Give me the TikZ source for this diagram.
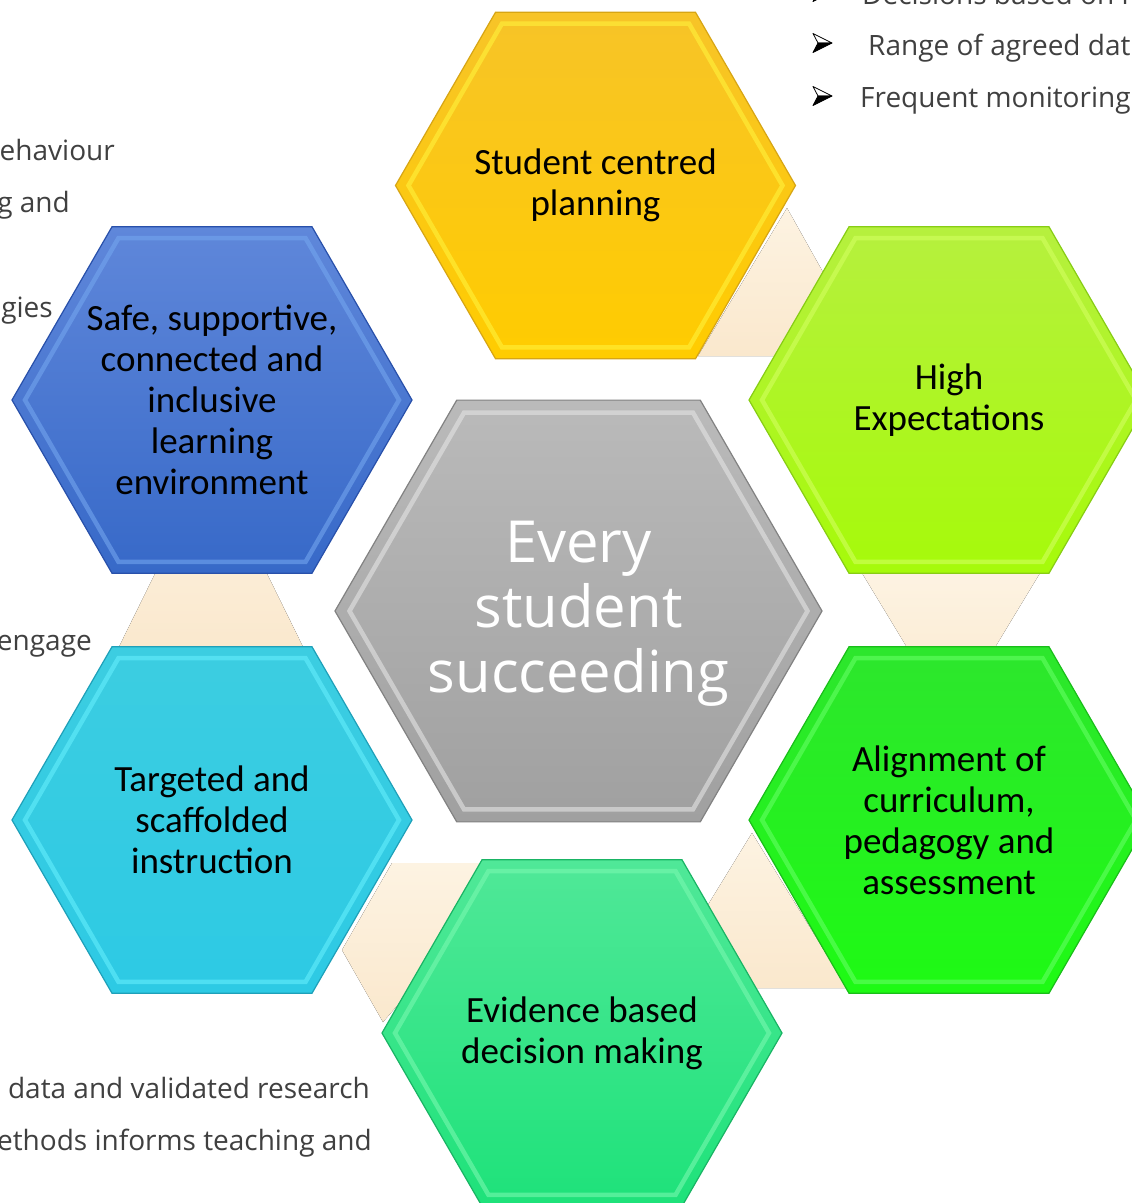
\documentclass[tikz,border=0pt]{standalone}
\usepackage{fontspec}
\usetikzlibrary{shapes.geometric}
\newfontfamily\labfont{Carlito}
\newfontfamily\sidefont{Open Sans}
\definecolor{sidegray}{RGB}{64,64,64}
\definecolor{creamT}{RGB}{253,243,226}
\definecolor{creamB}{RGB}{250,232,205}
\definecolor{yelT}{RGB}{247,196,40}\definecolor{yelB}{RGB}{255,204,0}\definecolor{yelL}{RGB}{255,242,60}\definecolor{yelD}{RGB}{215,165,20}
\definecolor{heT}{RGB}{182,240,62}\definecolor{heB}{RGB}{166,250,10}\definecolor{heL}{RGB}{210,255,95}\definecolor{heD}{RGB}{135,205,20}
\definecolor{alT}{RGB}{45,230,45}\definecolor{alB}{RGB}{30,250,20}\definecolor{alL}{RGB}{100,255,100}\definecolor{alD}{RGB}{25,190,25}
\definecolor{evT}{RGB}{80,232,152}\definecolor{evB}{RGB}{30,226,122}\definecolor{evL}{RGB}{120,248,175}\definecolor{evD}{RGB}{25,180,100}
\definecolor{taT}{RGB}{60,205,225}\definecolor{taB}{RGB}{45,202,228}\definecolor{taL}{RGB}{100,238,252}\definecolor{taD}{RGB}{30,160,185}
\definecolor{saT}{RGB}{95,135,218}\definecolor{saB}{RGB}{55,105,200}\definecolor{saL}{RGB}{115,165,238}\definecolor{saD}{RGB}{40,80,170}
\definecolor{grT}{RGB}{186,186,186}\definecolor{grB}{RGB}{160,160,160}\definecolor{grL}{RGB}{228,228,228}\definecolor{grD}{RGB}{130,130,130}
\tikzset{
  hexbase/.style={regular polygon, regular polygon sides=6, inner sep=0pt, line width=1.2pt},
  hextext/.style={align=center, inner sep=0pt, text=black, font=\labfont\fontsize{37}{41}\selectfont},
  bevelline/.style={line width=4.5pt, line join=miter, opacity=0.6},
  sidetext/.style={font=\sidefont\fontsize{28}{34}\selectfont, text=sidegray, inner sep=0pt},
  creamfill/.style={top color=creamT, bottom color=creamB, draw=none},
}
\newcommand\bevelhex[3]{\draw[bevelline, draw=#3] (#1.center) ++(0:#2) -- ++(120:#2) -- ++(180:#2) -- ++(240:#2) -- ++(300:#2) -- ++(0:#2) -- cycle;}
\newcommand\bularrow[2]{%
  \filldraw[fill=white, draw=black, line width=0.8pt, line join=round] (#1+19,#2) -- (#1,#2-9.5) -- (#1+5,#2) -- cycle;
  \filldraw[fill=black, draw=black, line width=0.8pt, line join=round] (#1+19,#2) -- (#1,#2+9.5) -- (#1+5,#2) -- cycle;}
\begin{document}
\begin{tikzpicture}[x=1pt,y=-1pt]
\useasboundingbox (0,0) rectangle (1132,1203);
\clip (0,0) rectangle (1132,1203);
\fill[white] (0,0) rectangle (1132,1203);

% side texts
\node[sidetext, anchor=base east] (t1) at (115,160) {ehaviour};
\node[sidetext, anchor=base east] (t2) at (70,212) {g and};
\node[sidetext, anchor=base east] (t3) at (53,317) {gies};
\node[sidetext, anchor=base east] (t4) at (92,650) {engage};
\node[sidetext, anchor=base east] (t5) at (370,1098) {data and validated research};
\node[sidetext, anchor=base east] (t6) at (372,1150) {ethods informs teaching and};
\node[sidetext, anchor=base west] (t7) at (862,4) {Decisions based on r};
\node[sidetext, anchor=base west] (t8) at (868,55) {Range of agreed dat};
\node[sidetext, anchor=base west] (t9) at (860,107) {Frequent monitoring};
\bularrow{813}{-8}
\bularrow{813}{43}
\bularrow{813}{96}

% cream connectors
\fill[creamfill] (787,208) -- (698,356) -- (870,356) -- cycle;
\fill[creamfill] (862,573) -- (1040,573) -- (951,720) -- cycle;
\fill[creamfill] (752,833) -- (657,988) -- (847,988) -- cycle;
\fill[creamfill] (392,863) -- (520,863) -- (383,1022) -- (342,950) -- cycle;
\fill[creamfill] (211,460) -- (115,655) -- (307,655) -- cycle;

% hexagons
\node[hexbase, minimum size=400pt, top color=yelT, bottom color=yelB, draw=yelD] (plan) at (595.5,185.5) {};
\bevelhex{plan}{187}{yelL}
\node[hextext] (planT) at (plan.center) {Student centred\\planning};
\node[hexbase, minimum size=400pt, top color=heT, bottom color=heB, draw=heD] (high) at (949,400) {};
\bevelhex{high}{187}{heL}
\node[hextext] (highT) at (high.center) {High\\Expectations};
\node[hexbase, minimum size=400pt, top color=alT, bottom color=alB, draw=alD] (align) at (949,820) {};
\bevelhex{align}{187}{alL}
\node[hextext] (alignT) at (align.center) {Alignment of\\curriculum,\\pedagogy and\\assessment};
\node[hexbase, minimum size=400pt, top color=evT, bottom color=evB, draw=evD] (evid) at (582,1033) {};
\bevelhex{evid}{187}{evL}
\node[hextext] (evidT) at (evid.center) {Evidence based\\decision making};
\node[hexbase, minimum size=400pt, top color=taT, bottom color=taB, draw=taD] (targ) at (212,820) {};
\bevelhex{targ}{187}{taL}
\node[hextext] (targT) at (targ.center) {Targeted and\\scaffolded\\instruction};
\node[hexbase, minimum size=400pt, top color=saT, bottom color=saB, draw=saD] (safe) at (212,400) {};
\bevelhex{safe}{187}{saL}
\node[hextext] (safeT) at (safe.center) {Safe, supportive,\\connected and\\inclusive\\learning\\environment};
\node[hexbase, minimum size=487pt, top color=grT, bottom color=grB, draw=grD] (core) at (578.5,611) {};
\bevelhex{core}{229}{grL}
\node[hextext, text=white, font=\sidefont\fontsize{58}{65}\selectfont] (coreT) at ([yshift=-3pt]core.center) {Every\\student\\succeeding};
\end{tikzpicture}
\end{document}
